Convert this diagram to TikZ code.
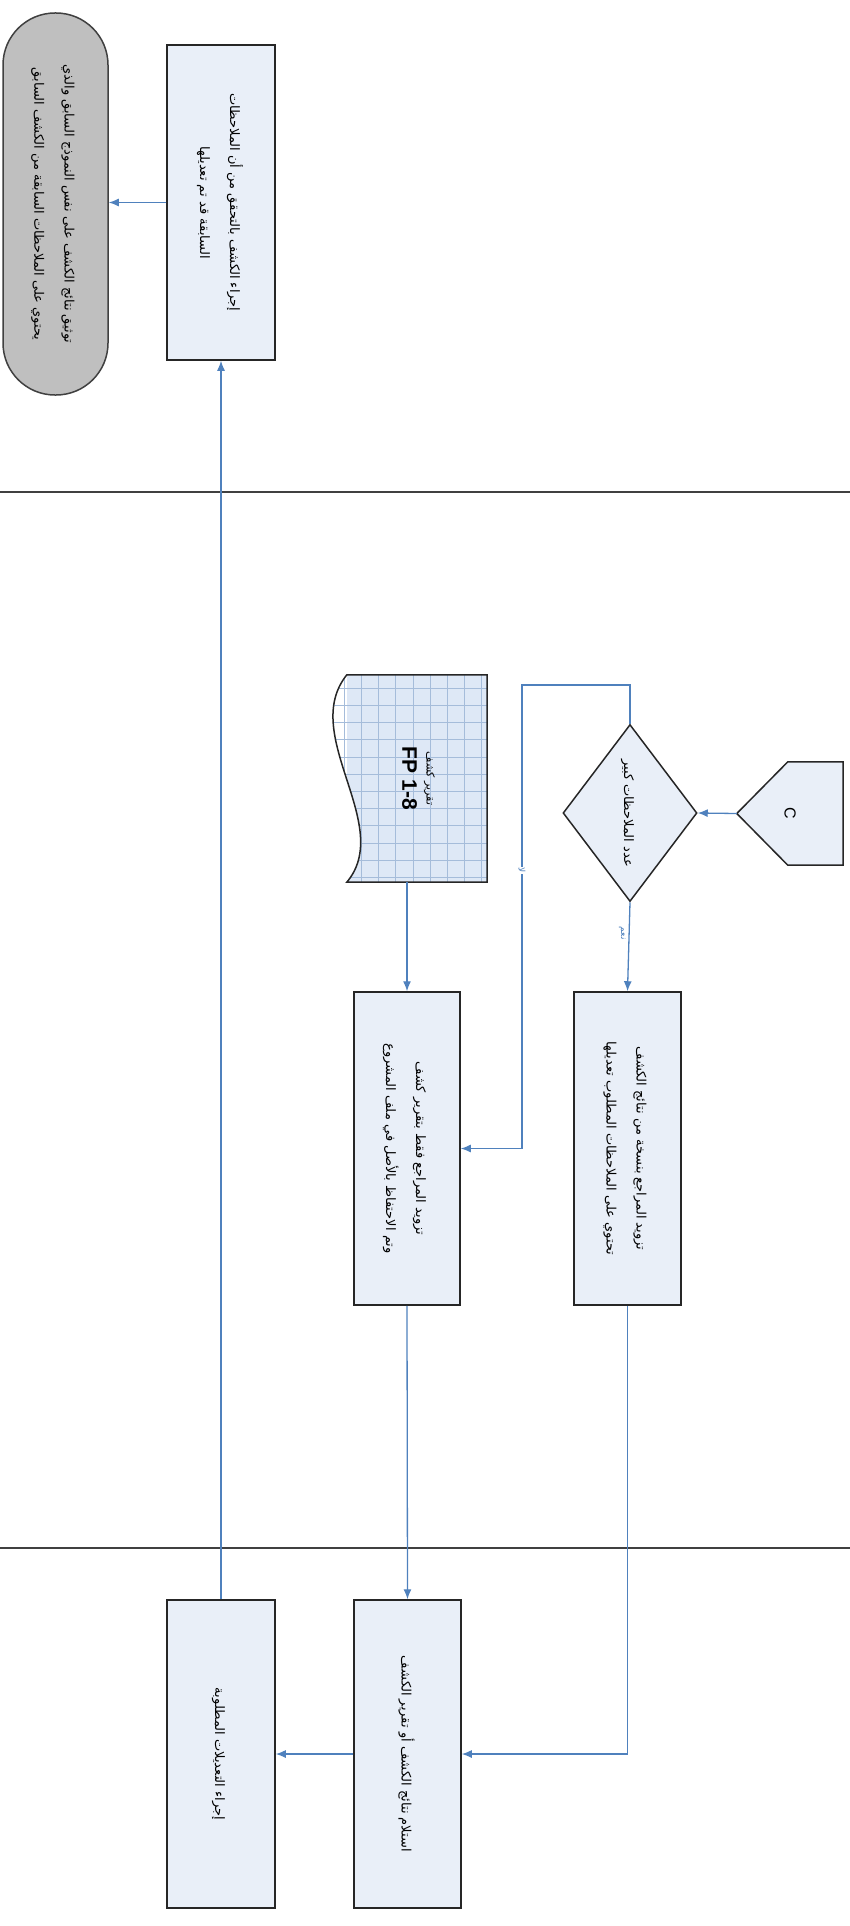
\documentclass[tikz,border=0pt]{standalone}
\usepackage{fontspec}
\usetikzlibrary{calc,positioning,shapes.geometric,backgrounds,arrows.meta}
\setmainfont{DejaVu Sans}
\newfontfamily\arabicfont[Script=Arabic]{DejaVu Sans}
\newfontfamily\latinfont{Liberation Sans}
\TeXXeTstate=1
\definecolor{flowblue}{RGB}{79,129,189}
\definecolor{boxfill}{RGB}{233,239,248}
\definecolor{docfill}{RGB}{222,232,246}
\definecolor{docgrid}{RGB}{165,188,218}
\newcommand*\artext[1]{\beginR #1\endR}
\newcommand*\vtext[1]{\rotatebox{-90}{\arabicfont\fontsize{13}{30}\selectfont\begin{tabular}{@{}c@{}}#1\end{tabular}}}

\begin{document}
\begin{tikzpicture}[x=1pt,y=-1pt,>={Latex[length=10pt,width=8pt]},
  box/.style={draw=black!85,line width=1.5pt,fill=boxfill,inner sep=0pt},
  flow/.style={flowblue,line width=1.3pt},
  lane/.style={black!75,line width=2.5pt},
  answer/.style={fill=white,inner sep=1pt,font={\arabicfont\fontsize{9}{10}\selectfont}}]
\useasboundingbox (0,0) rectangle (850,1926);

% lanes
\draw[lane] (0,492) -- (850,492);
\draw[lane,line width=1.6pt] (0,1548) -- (850,1548);

% top lane
\node[box,minimum width=108pt,minimum height=315pt] (verify) at (221,202.5)
  {\vtext{\artext{إجراء الكشف بالتحقق من أن الملاحظات}\\ \artext{السابقة قد تم تعديلها}}};
\node[box,fill=black!25,draw=black!75,rounded corners=52pt,minimum width=105pt,minimum height=382pt] (report) at (55.5,204)
  {\vtext{\artext{توثيق نتائج الكشف على نفس النموذج السابق والذي}\\ \artext{يحتوي على الملاحظات السابقة من الكشف السابق}}};

% middle lane
\node[inner sep=0pt,minimum width=140pt,minimum height=207pt] (doc) at (417,778.5)
  {\rotatebox{-90}{\begin{tabular}{@{}c@{}}{\arabicfont\fontsize{11}{14}\selectfont\artext{تقرير كشف}}\\[6pt] {\latinfont\bfseries\fontsize{21}{23}\selectfont FP 1-8}\end{tabular}}};
\node[box,diamond,aspect=0.75,minimum width=134pt,minimum height=177pt] (dec) at (630,813)
  {\vtext{\artext{عدد الملاحظات كبير}}};
\node[inner sep=0pt,minimum width=106pt,minimum height=103pt] (conn) at (790,813.5)
  {\rotatebox{-90}{\latinfont\fontsize{16}{18}\selectfont C}};
\node[box,minimum width=106pt,minimum height=313pt] (copy) at (407,1148.5)
  {\vtext{\artext{تزويد المراجع فقط بتقرير كشف}\\ \artext{وتم الاحتفاظ بالأصل في ملف المشروع}}};
\node[box,minimum width=107pt,minimum height=313pt] (send) at (627.5,1148.5)
  {\vtext{\artext{تزويد المراجع بنسخة من نتائج الكشف}\\ \artext{تحتوي على الملاحظات المطلوب تعديلها}}};

% bottom lane
\node[box,minimum width=107pt,minimum height=308pt] (recv) at (407.5,1754)
  {\vtext{\artext{استلام نتائج الكشف أو تقرير الكشف}}};
\node[box,minimum width=108pt,minimum height=308pt] (edit) at (221,1754)
  {\vtext{\artext{إجراء التعديلات المطلوبة}}};

% shapes behind the texts
\begin{scope}[on background layer]
\begin{scope}
\clip (doc.north west) -- (doc.north east) -- (doc.south east) -- (doc.south west)
  .. controls ($(doc.south west)+(48,-57)$) and ($(doc.north west)+(-48,60)$) .. (doc.north west) -- cycle;
\fill[docfill] (doc.north west) rectangle (doc.south east) ;
\draw[docgrid,line width=0.6pt,step=17.2pt] ($(doc.north west)+(-30,0)$) grid (doc.south east);
\end{scope}
\draw[line width=1.5pt,draw=black!85] (doc.north west) -- (doc.north east) -- (doc.south east) -- (doc.south west)
  .. controls ($(doc.south west)+(48,-57)$) and ($(doc.north west)+(-48,60)$) .. (doc.north west) -- cycle;
\draw[box] (conn.west) -- ($(conn.north west)+(51,0)$) -- (conn.north east) -- (conn.south east) -- ($(conn.south west)+(51,0)$) -- cycle;
\end{scope}

\coordinate (nobend) at (522,685);

% connectors
\draw[flow,->] (conn.west) -- (dec.east);
\draw[flow,->] (dec.south) -- node[answer,left=2pt,pos=0.35] {\rotatebox{-90}{\artext{نعم}}} (send.north);
\draw[flow,->] (dec.north) |- (nobend) -- node[answer,pos=0.4] {\rotatebox{-90}{\artext{لا}}} (nobend |- copy.east) -- (copy.east);
\draw[flow,->] (doc.south -| copy.north) -- (copy.north);
\draw[flow,->] (copy.south) -- (recv.north);
\draw[flow,->] (send.south) |- (recv.east);
\draw[flow,->] (recv.west) -- (edit.east);
\draw[flow,->] (edit.north) -- (verify.south);
\draw[flow,->] (verify.west) -- (verify.west -| report.east);

\end{tikzpicture}
\end{document}
